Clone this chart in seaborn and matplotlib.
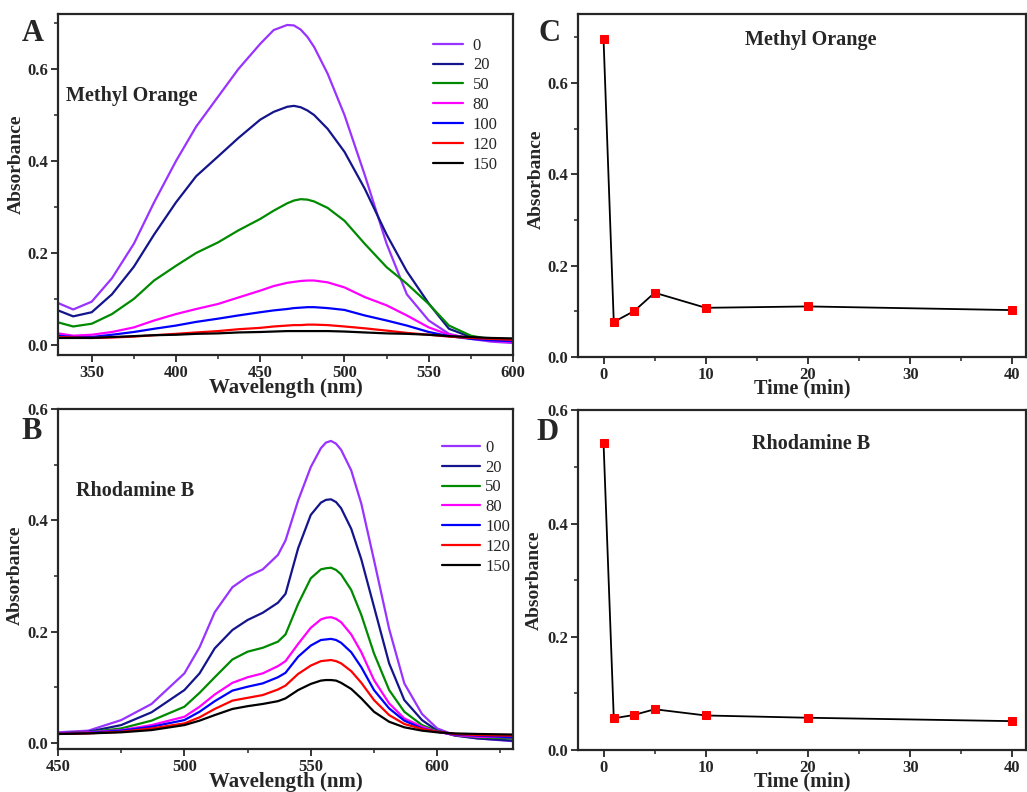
import numpy as np
import pandas as pd
import seaborn as sns
import matplotlib.pyplot as plt
from matplotlib.ticker import MultipleLocator

# irradiation times (legend)
times = ["0", "20", "50", "80", "100", "120", "150"]
colors = ["#9933FF", "#14148C", "#008A00", "#FF00FF", "#0000FF", "#FF0000", "#000000"]

# panel A: methyl orange spectra
wl_mo = [330, 339, 350, 362, 375, 387, 400, 412, 425, 437, 450, 458, 466, 470, 474,
         478, 482, 490, 500, 512, 525, 537, 550, 562, 575, 587, 600]
mo_0 = [0.091, 0.077, 0.094, 0.145, 0.22, 0.31, 0.40, 0.475, 0.54, 0.60, 0.655, 0.685, 0.696, 0.695, 0.686,
        0.670, 0.648, 0.59, 0.50, 0.37, 0.22, 0.11, 0.053, 0.024, 0.013, 0.007, 0.004]
mo_20 = [0.075, 0.062, 0.071, 0.11, 0.17, 0.24, 0.31, 0.367, 0.41, 0.45, 0.49, 0.507, 0.518, 0.520, 0.517,
         0.510, 0.50, 0.47, 0.42, 0.34, 0.24, 0.16, 0.09, 0.035, 0.017, 0.011, 0.009]
mo_50 = [0.049, 0.040, 0.046, 0.067, 0.10, 0.14, 0.172, 0.20, 0.223, 0.249, 0.274, 0.292, 0.308, 0.314, 0.317,
         0.316, 0.312, 0.298, 0.27, 0.22, 0.169, 0.133, 0.089, 0.042, 0.02, 0.012, 0.008]
mo_80 = [0.025, 0.020, 0.022, 0.028, 0.038, 0.053, 0.067, 0.078, 0.089, 0.103, 0.118, 0.128, 0.135, 0.137, 0.139,
         0.140, 0.140, 0.136, 0.125, 0.104, 0.086, 0.064, 0.038, 0.022, 0.015, 0.009, 0.006]
mo_100 = [0.020, 0.017, 0.017, 0.022, 0.028, 0.035, 0.042, 0.050, 0.057, 0.064, 0.071, 0.075, 0.078, 0.080, 0.081,
          0.082, 0.082, 0.080, 0.076, 0.064, 0.053, 0.042, 0.028, 0.019, 0.013, 0.010, 0.008]
mo_120 = [0.017, 0.016, 0.015, 0.016, 0.018, 0.021, 0.024, 0.027, 0.030, 0.034, 0.037, 0.040, 0.042, 0.043, 0.043,
          0.044, 0.044, 0.043, 0.040, 0.036, 0.031, 0.026, 0.022, 0.018, 0.015, 0.013, 0.011]
mo_150 = [0.015, 0.015, 0.015, 0.017, 0.019, 0.021, 0.022, 0.024, 0.025, 0.027, 0.028, 0.029, 0.030, 0.030, 0.030,
          0.030, 0.030, 0.030, 0.029, 0.027, 0.025, 0.024, 0.022, 0.019, 0.017, 0.015, 0.014]

# panel B: rhodamine B spectra
wl_rb = [450, 462, 475, 487, 500, 506, 512, 519, 525, 531, 537, 540, 545, 550,
         554, 556, 558, 560, 562, 566, 570, 575, 581, 587, 594, 600, 607, 616, 630]
rb_0 = [0.019, 0.022, 0.041, 0.070, 0.125, 0.172, 0.235, 0.280, 0.299, 0.312, 0.338, 0.364, 0.436, 0.496,
        0.530, 0.540, 0.543, 0.538, 0.527, 0.490, 0.430, 0.329, 0.205, 0.107, 0.052, 0.026, 0.014, 0.008, 0.003]
rb_20 = [0.017, 0.020, 0.032, 0.055, 0.095, 0.125, 0.170, 0.203, 0.221, 0.234, 0.252, 0.268, 0.350, 0.410,
         0.432, 0.437, 0.438, 0.433, 0.422, 0.385, 0.330, 0.245, 0.143, 0.077, 0.041, 0.022, 0.013, 0.008, 0.004]
rb_50 = [0.017, 0.019, 0.026, 0.040, 0.065, 0.090, 0.118, 0.150, 0.164, 0.171, 0.182, 0.195, 0.250, 0.296,
         0.312, 0.314, 0.315, 0.311, 0.303, 0.275, 0.230, 0.161, 0.095, 0.056, 0.032, 0.021, 0.014, 0.010, 0.008]
rb_80 = [0.017, 0.019, 0.023, 0.032, 0.047, 0.065, 0.087, 0.108, 0.118, 0.125, 0.138, 0.147, 0.178, 0.207,
         0.222, 0.225, 0.226, 0.223, 0.217, 0.195, 0.163, 0.113, 0.071, 0.044, 0.029, 0.020, 0.014, 0.011, 0.010]
rb_100 = [0.016, 0.018, 0.022, 0.029, 0.041, 0.056, 0.075, 0.094, 0.101, 0.107, 0.118, 0.126, 0.155, 0.175,
          0.185, 0.186, 0.187, 0.185, 0.180, 0.163, 0.136, 0.095, 0.062, 0.040, 0.026, 0.020, 0.015, 0.013, 0.010]
rb_120 = [0.016, 0.017, 0.020, 0.026, 0.035, 0.046, 0.061, 0.076, 0.081, 0.086, 0.096, 0.103, 0.124, 0.139,
          0.147, 0.148, 0.149, 0.147, 0.143, 0.129, 0.108, 0.077, 0.050, 0.034, 0.025, 0.020, 0.016, 0.014, 0.013]
rb_150 = [0.016, 0.017, 0.019, 0.023, 0.032, 0.040, 0.050, 0.061, 0.066, 0.070, 0.075, 0.080, 0.095, 0.106,
          0.112, 0.113, 0.113, 0.112, 0.108, 0.097, 0.080, 0.056, 0.038, 0.028, 0.022, 0.019, 0.017, 0.016, 0.015]

# panels C and D: absorbance at peak vs time
t_min = [0, 1, 3, 5, 10, 20, 40]
mo_peak = [0.695, 0.077, 0.101, 0.141, 0.108, 0.111, 0.103]
rb_peak = [0.542, 0.056, 0.062, 0.072, 0.061, 0.057, 0.051]


def long_df(wl, series):
    frames = [pd.DataFrame({"wl": wl, "abs": s, "time": t}) for t, s in zip(times, series)]
    return pd.concat(frames, ignore_index=True)


sns.set_style("ticks")
plt.rcParams["font.family"] = ["Liberation Serif", "DejaVu Serif"]
plt.rcParams["font.weight"] = "bold"
plt.rcParams["axes.labelweight"] = "bold"
plt.rcParams["axes.linewidth"] = 1.6
plt.rcParams["xtick.direction"] = "out"
plt.rcParams["ytick.direction"] = "out"

fig = plt.figure(figsize=(10.27, 7.92), dpi=100)
axA = fig.add_axes([0.0565, 0.5518, 0.443, 0.4306])
axB = fig.add_axes([0.0565, 0.0543, 0.443, 0.429])
axC = fig.add_axes([0.5628, 0.549, 0.436, 0.433])
axD = fig.add_axes([0.5628, 0.053, 0.436, 0.429])

dfA = long_df(wl_mo, [mo_0, mo_20, mo_50, mo_80, mo_100, mo_120, mo_150])
dfB = long_df(wl_rb, [rb_0, rb_20, rb_50, rb_80, rb_100, rb_120, rb_150])

for ax, df, xlim, ylim, xmaj, name, tx, leg_x, leg_y, hl, htp in [
        (axA, dfA, (330, 600), (-0.022, 0.72), 50, "Methyl Orange", 0.018, 0.809, 0.95, 1.8, 0.6),
        (axB, dfB, (450, 630), (-0.011, 0.6), 50, "Rhodamine B", 0.04, 0.829, 0.93, 2.3, 0.3)]:
    sns.lineplot(data=df, x="wl", y="abs", hue="time", hue_order=times,
                 palette=colors, linewidth=1.6, ax=ax)
    ax.set_xlim(*xlim)
    ax.set_ylim(*ylim)
    ax.xaxis.set_major_locator(MultipleLocator(xmaj))
    ax.xaxis.set_minor_locator(MultipleLocator(xmaj / 2))
    ax.set_xlabel("Wavelength (nm)", fontsize=15, labelpad=-2)
    ax.text(tx, 0.76, name, transform=ax.transAxes, fontsize=14.5,
            fontweight="bold", va="center")
    ax.legend(loc="upper left", bbox_to_anchor=(leg_x, leg_y), frameon=False,
              handlelength=hl, handletextpad=htp, labelspacing=0.23,
              borderaxespad=0, prop={"weight": "normal", "size": 12})

for ax, peak, ylim, name, ty in [(axC, mo_peak, (0, 0.75), "Methyl Orange", 0.925),
                                 (axD, rb_peak, (0, 0.6), "Rhodamine B", 0.90)]:
    sns.lineplot(x=t_min, y=peak, color="black", linewidth=1.3, marker="s",
                 markersize=5.5, markerfacecolor="red", markeredgecolor="red", ax=ax)
    ax.set_xlim(-2.5, 41.3)
    ax.set_ylim(*ylim)
    ax.xaxis.set_major_locator(MultipleLocator(10))
    ax.xaxis.set_minor_locator(MultipleLocator(5))
    ax.set_xlabel("Time (min)", fontsize=14.5, labelpad=-3)
    ax.text(0.52, ty, name, transform=ax.transAxes, fontsize=14.5,
            fontweight="bold", ha="center", va="center")

for ax, letter, lx, ly in [(axA, "A", -0.079, 0.944), (axB, "B", -0.081, 0.935),
                           (axC, "C", -0.089, 0.945), (axD, "D", -0.092, 0.935)]:
    ax.yaxis.set_major_locator(MultipleLocator(0.2))
    ax.yaxis.set_minor_locator(MultipleLocator(0.1))
    ax.yaxis.set_major_formatter(plt.FormatStrFormatter("%.1f"))
    ax.tick_params(which="major", length=5, width=1.3, labelsize=12, pad=2)
    ax.tick_params(which="minor", length=3, width=1.1)
    ax.set_ylabel("Absorbance", fontsize=14)
    for s in ax.spines.values():
        s.set_visible(True)
        s.set_linewidth(1.6)
    ax.text(lx, ly, letter, transform=ax.transAxes, fontsize=22,
            fontweight="bold", ha="left", va="center")

axA.yaxis.set_label_coords(-0.073, 0.56)
axB.yaxis.set_label_coords(-0.075, 0.51)
axC.yaxis.set_label_coords(-0.074, 0.52)
axD.yaxis.set_label_coords(-0.078, 0.50)

fig.savefig("out.png", dpi=100)
